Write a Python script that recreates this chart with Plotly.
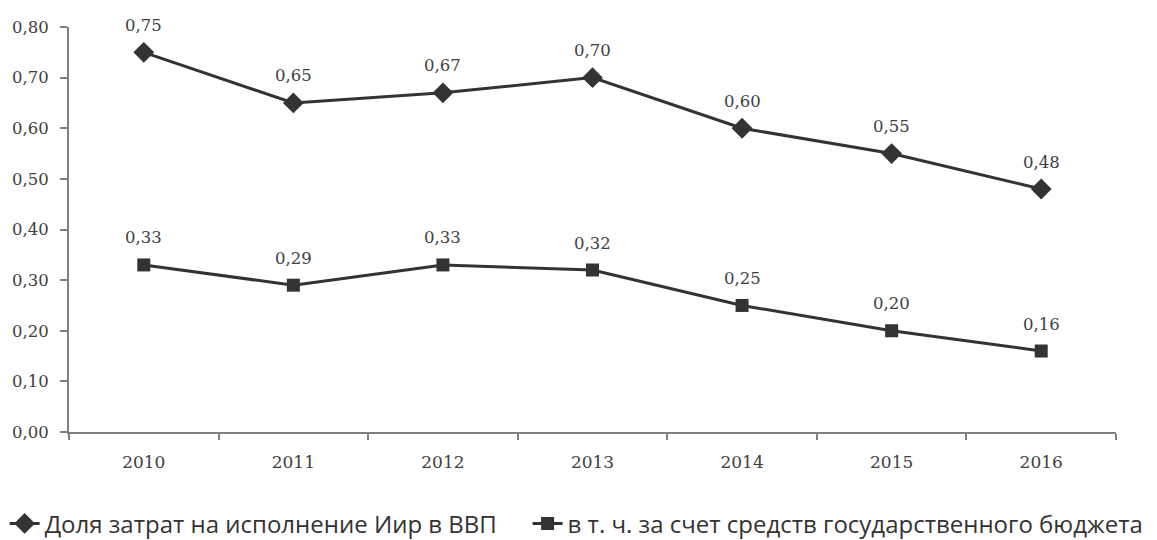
import plotly.graph_objects as go

years = ["2010", "2011", "2012", "2013", "2014", "2015", "2016"]
share_gdp = [0.75, 0.65, 0.67, 0.70, 0.60, 0.55, 0.48]
share_budget = [0.33, 0.29, 0.33, 0.32, 0.25, 0.20, 0.16]
name1 = "Доля затрат на исполнение Иир в ВВП"
name2 = "в т. ч. за счет средств государственного бюджета"

line_col = "#333333"
serif = "DejaVu Serif, serif"
lbl_font = dict(family=serif, size=16.5, color="#404040")
xtick_font = dict(family=serif, size=17, color="#404040")
leg_font = dict(family="Open Sans, Noto Sans, sans-serif", size=24, color="#333333")

fig = go.Figure()
fig.add_trace(go.Scatter(
    x=years, y=share_gdp, name=name1, mode="lines+markers",
    line=dict(color=line_col, width=3),
    marker=dict(symbol="diamond", size=16, color=line_col),
    cliponaxis=False, legend="legend",
))
fig.add_trace(go.Scatter(
    x=years, y=share_budget, name=name2, mode="lines+markers",
    line=dict(color=line_col, width=3),
    marker=dict(symbol="square", size=13, color=line_col),
    cliponaxis=False, legend="legend2",
))

for series in (share_gdp, share_budget):
    for i, v in enumerate(series):
        fig.add_annotation(x=i, y=v, text=f"{v:.2f}".replace(".", ","), showarrow=False,
                           yshift=27, font=lbl_font)

fig.update_layout(
    width=1157, height=540, autosize=False,
    margin=dict(l=69, r=41, t=27, b=108),
    paper_bgcolor="white", plot_bgcolor="white",
    separators=", ",
    showlegend=True,
    legend=dict(orientation="h", xref="container", yref="container",
                x=0.004, xanchor="left", y=0.03, yanchor="middle", font=leg_font),
    legend2=dict(orientation="h", xref="container", yref="container",
                 x=0.456, xanchor="left", y=0.03, yanchor="middle", font=leg_font),
    xaxis=dict(type="category", range=[-0.5, len(years) - 0.5], showline=True,
               linecolor="#808080", linewidth=2,
               ticks="outside", tickson="boundaries", ticklen=6, tickcolor="#808080", tickwidth=2,
               showgrid=False, tickfont=xtick_font, mirror=False, automargin=False,
               ticklabelstandoff=14, tickangle=0),
    yaxis=dict(range=[0, 0.8], dtick=0.1, tickformat=".2f", showline=True, linecolor="#808080",
               linewidth=2, ticks="outside", ticklen=7, tickcolor="#808080", tickwidth=2,
               showgrid=False, zeroline=False, tickfont=lbl_font, automargin=False,
               ticklabelstandoff=8),
)

fig.write_html("out.html", config={"displayModeBar": False},
               post_script="document.body.style.margin='0';")
